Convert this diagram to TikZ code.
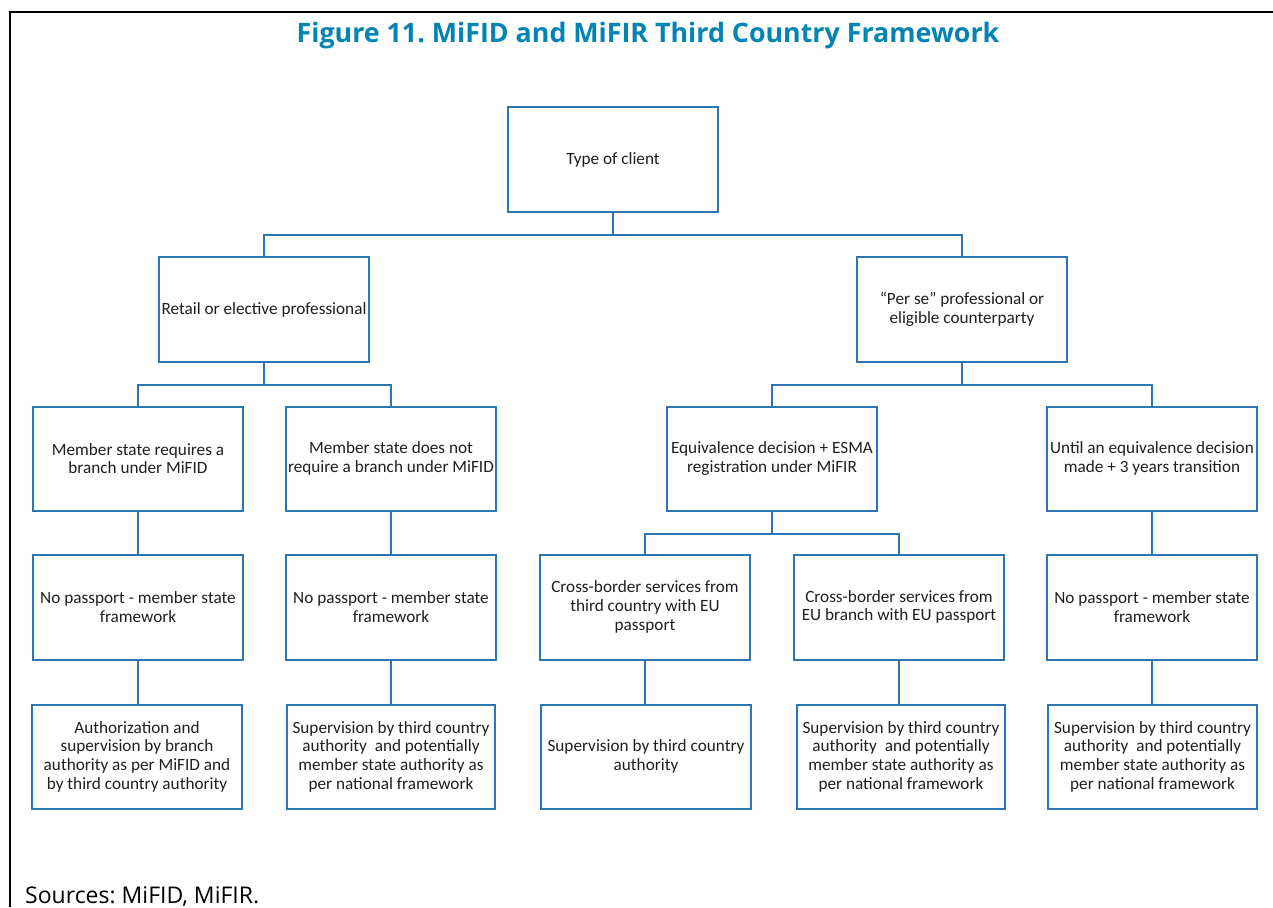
\documentclass[tikz,border=0pt]{standalone}
\usepackage{fontspec}
\setmainfont{Carlito}
\newfontfamily\titlefont{Open Sans}
\usetikzlibrary{calc}
\definecolor{boxblue}{RGB}{46,117,182}
\definecolor{titleblue}{RGB}{0,132,180}
\frenchspacing
\begin{document}
\begin{tikzpicture}[x=1pt,y=-1pt,
  bx/.style={draw=boxblue,line width=2pt,fill=white,minimum width=210pt,minimum height=104pt,
    align=center,inner sep=0pt,font=\fontsize{17.2}{18.7}\selectfont,text=black!88},
  cn/.style={draw=boxblue,line width=2pt}]
\useasboundingbox (0,0) rectangle (1273,907);
\fill[white] (0,0) rectangle (1273,907);
\draw[line width=2.4pt,black] (10,907) -- (10,12) -- (1273,12);
\node[anchor=base,inner sep=0pt,text=titleblue,font=\titlefont\bfseries\fontsize{26.8}{30}\selectfont] (title) at (648,43) {Figure 11. MiFID and MiFIR Third Country Framework};
\node[anchor=base west,inner sep=0pt,font=\titlefont\fontsize{23}{26}\selectfont,text=black] (src) at (25,903) {Sources: MiFID, MiFIR.};
% row 1
\node[bx,minimum height=105pt] (tc) at (613,159.5) {Type of client};
% row 2
\node[bx,minimum height=105pt] (ret) at (264,309.5) {Retail or elective professional};
\node[bx,minimum height=105pt] (per) at (962,309.5) {“Per se” professional or\\eligible counterparty};
% row 3
\node[bx] (r3a) at (138,458.5) {Member state requires a\\branch under MiFID};
\node[bx] (r3b) at (391,458.5) {Member state does not\\require a branch under MiFID};
\node[bx] (r3c) at (772,458.5) {Equivalence decision + ESMA\\registration under MiFIR};
\node[bx] (r3d) at (1152,458.5) {Until an equivalence decision\\made + 3 years transition};
% row 4
\node[bx,minimum height=105pt] (r4a) at (138,607) {No passport - member state\\framework};
\node[bx,minimum height=105pt] (r4b) at (391,607) {No passport - member state\\framework};
\node[bx,minimum height=105pt] (r4c) at (645,607) {Cross-border services from\\third country with EU\\passport};
\node[bx,minimum height=105pt] (r4d) at (899,607) {Cross-border services from\\EU branch with EU passport};
\node[bx,minimum height=105pt] (r4e) at (1152,607) {No passport - member state\\framework};
% row 5
\node[bx] (r5a) at (137,756.5) {Authorization and\\supervision by branch\\authority as per MiFID and\\by third country authority};
\node[bx,minimum width=208pt] (r5b) at (391,756.5) {Supervision by third country\\authority\ \ and potentially\\member state authority as\\per national framework};
\node[bx] (r5c) at (646,756.5) {Supervision by third country\\authority};
\node[bx,minimum width=208pt] (r5d) at (901,756.5) {Supervision by third country\\authority\ \ and potentially\\member state authority as\\per national framework};
\node[bx,minimum width=209pt] (r5e) at (1152.5,756.5) {Supervision by third country\\authority\ \ and potentially\\member state authority as\\per national framework};
% connectors
\draw[cn] (tc.south) -- ++(0,22) coordinate (j1);
\draw[cn] (ret.north) |- (j1) -| (per.north);
\draw[cn] (ret.south) -- ++(0,22) coordinate (j2);
\draw[cn] (r3a.north) |- (j2) -| (r3b.north);
\draw[cn] (per.south) -- ++(0,22) coordinate (j3);
\draw[cn] (r3c.north) |- (j3) -| (r3d.north);
\draw[cn] (r3c.south) -- ++(0,22) coordinate (j4);
\draw[cn] (r4c.north) |- (j4) -| (r4d.north);
\draw[cn] (r3a.south) -- (r4a.north);
\draw[cn] (r3b.south) -- (r4b.north);
\draw[cn] (r3d.south) -- (r4e.north);
\draw[cn] (r4a.south) -- (r4a.south |- r5a.north);
\draw[cn] (r4b.south) -- (r4b.south |- r5b.north);
\draw[cn] (r4c.south) -- (r4c.south |- r5c.north);
\draw[cn] (r4d.south) -- (r4d.south |- r5d.north);
\draw[cn] (r4e.south) -- (r4e.south |- r5e.north);
\end{tikzpicture}
\end{document}
